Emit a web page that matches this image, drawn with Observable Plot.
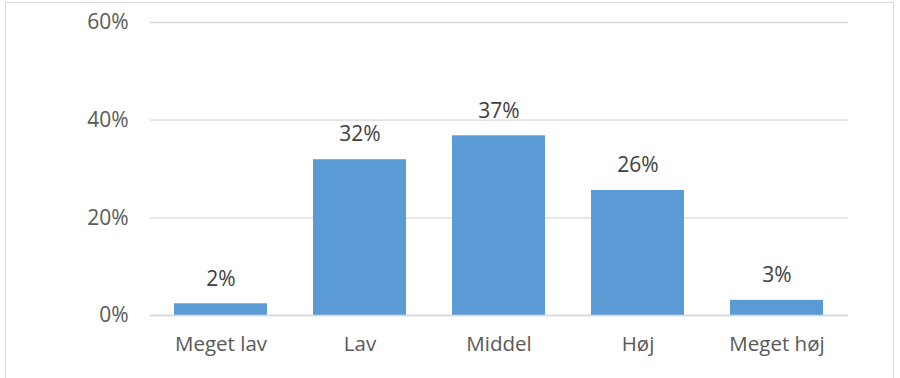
<!DOCTYPE html>
<html>
<head>
<meta charset="utf-8">
<script src="https://cdn.jsdelivr.net/npm/d3@7"></script>
<script src="https://cdn.jsdelivr.net/npm/@observablehq/plot@0.6"></script>
<style>
  html, body { margin: 0; padding: 0; background: #fff; width: 900px; height: 378px; overflow: hidden; }
  #frame { position: absolute; left: 5px; top: 2px; width: 889px; height: 400px; border: 1px solid #d9d9d9; box-sizing: border-box; }
  #chart { position: absolute; left: 0; top: 0; }
</style>
</head>
<body>
<div id="frame"></div>
<div id="chart"></div>
<script>
const categories = ["Meget lav", "Lav", "Middel", "Høj", "Meget høj"];
const values = [2.4, 31.9, 36.8, 25.6, 3.1];
const valueLabels = ["2%", "32%", "37%", "26%", "3%"];
const yTicks = [0, 20, 40, 60];

const data = categories.map((c, i) => ({cat: c, v: values[i], label: valueLabels[i]}));

const font = "'Open Sans', 'Liberation Sans', sans-serif";

const chart = Plot.plot({
  width: 900,
  height: 378,
  marginLeft: 150,
  marginRight: 52,
  marginTop: 22,
  marginBottom: 63,
  style: {fontFamily: font, fontSize: "20.5px", color: "#595959", background: "transparent"},
  x: {domain: categories, paddingInner: 0.33, paddingOuter: 0.165, label: null},
  y: {domain: [0, 60], ticks: yTicks, label: null},
  marks: [
    Plot.ruleY(yTicks, {stroke: "#d9d9d9", strokeWidth: 1.3}),
    Plot.barY(data, {x: "cat", y: "v", fill: "#5b9bd5"}),
    Plot.ruleY([0], {stroke: "#d9d9d9", strokeWidth: 1.5}),
    Plot.text(data, {x: "cat", y: "v", text: "label", dy: -25, fill: "#404040", fontSize: 21}),
    Plot.axisY({ticks: yTicks, tickSize: 0, tickPadding: 22, tickFormat: d => d + "%", fontSize: 21, fill: "#595959"}),
    Plot.axisX({tickSize: 0, tickPadding: 21, fontSize: 20.5, fill: "#595959"})
  ]
});
document.getElementById("chart").appendChild(chart);
</script>
</body>
</html>
